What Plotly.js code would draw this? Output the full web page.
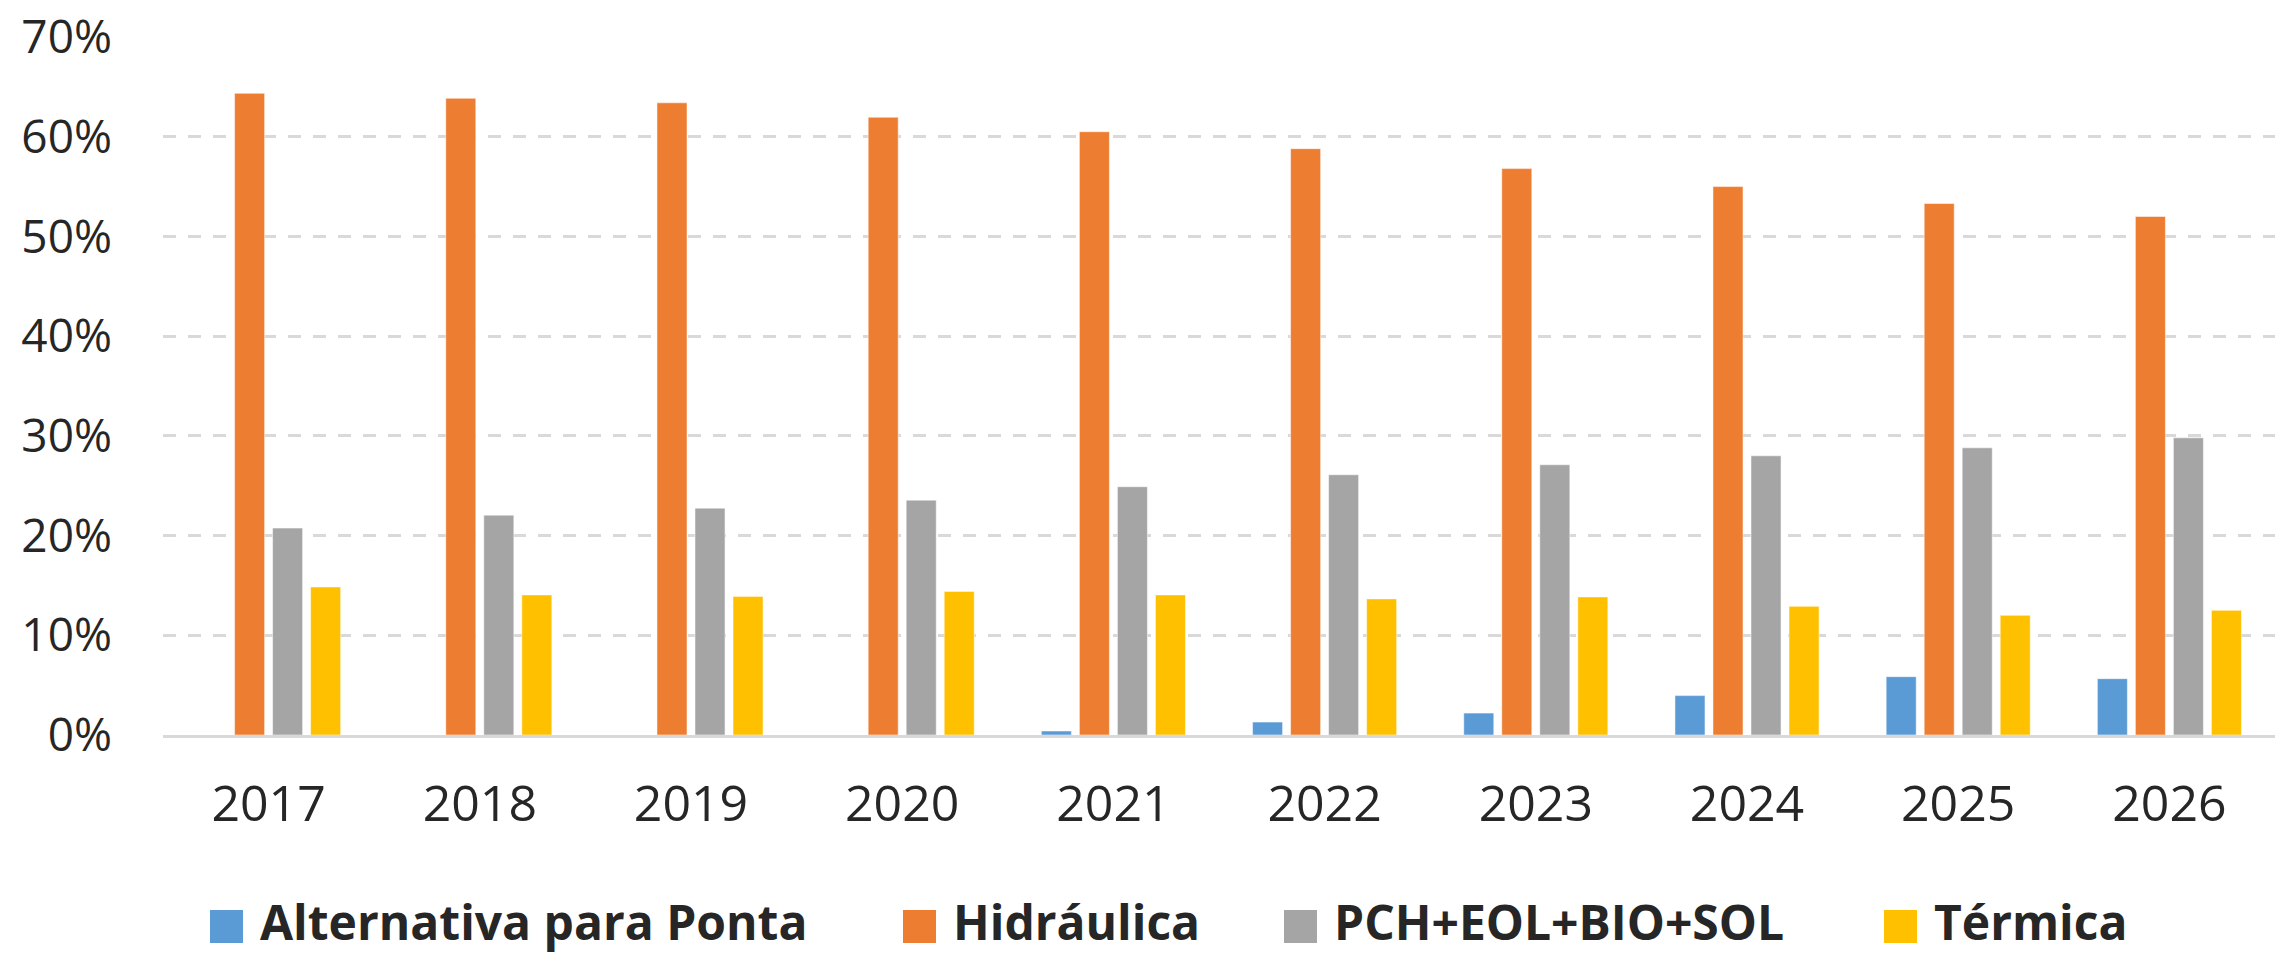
<!DOCTYPE html>
<html>
<head>
<meta charset="utf-8">
<script src="https://cdn.plot.ly/plotly-3.0.1.min.js"></script>
<style>
  html, body { margin: 0; padding: 0; background: #ffffff; }
  #chart { width: 2285px; height: 954px; }
</style>
</head>
<body>
<div id="chart"></div>
<script>
// ---- data (values in %) ----
var years = ['2017', '2018', '2019', '2020', '2021', '2022', '2023', '2024', '2025', '2026'];
var seriesNames = ['Alternativa para Ponta', 'Hidráulica', 'PCH+EOL+BIO+SOL', 'Térmica'];
var alternativaPonta = [0, 0, 0, 0, 0.4, 1.3, 2.2, 3.95, 5.85, 5.65];
var hidraulica = [64.35, 63.85, 63.4, 61.95, 60.5, 58.8, 56.8, 55.0, 53.3, 52.0];
var pchEolBioSol = [20.75, 22.05, 22.75, 23.55, 24.9, 26.1, 27.1, 28.0, 28.8, 29.8];
var termica = [14.85, 14.05, 13.9, 14.4, 14.05, 13.65, 13.85, 12.9, 12.0, 12.5];
var yTickVals = [0, 10, 20, 30, 40, 50, 60, 70];
var yTickText = ['0%', '10%', '20%', '30%', '40%', '50%', '60%', '70%'];

// ---- styles ----
var colors = ['#5B9BD5', '#ED7D31', '#A5A5A5', '#FFC000'];
var textColor = '#262626';
var seriesValues = [alternativaPonta, hidraulica, pchEolBioSol, termica];

var traces = seriesValues.map(function (vals, i) {
  return {
    type: 'bar',
    name: seriesNames[i],
    x: years,
    y: vals,
    marker: { color: colors[i], line: { color: 'rgba(255,255,255,0.5)', width: 1 } },
    showlegend: false,
    hoverinfo: 'x+y+name'
  };
});

// custom legend (large square swatches like the original)
var W = 2285, H = 954;
var mL = 163, mR = 10, mT = 37, mB = 219;
var plotW = W - mL - mR, plotH = H - mT - mB;
function px2paperX(px) { return (px - mL) / plotW; }
function px2paperY(py) { return (H - mB - py) / plotH; }

var legendSwatchLeft = [210, 903, 1284, 1884];
var swatch = 33, swatchTop = 910, textGap = 15, legendTextY = 921;

var shapes = [], annotations = [];
seriesNames.forEach(function (name, i) {
  var x0 = legendSwatchLeft[i];
  shapes.push({
    type: 'rect', xref: 'paper', yref: 'paper',
    x0: px2paperX(x0), x1: px2paperX(x0 + swatch),
    y0: px2paperY(swatchTop + swatch), y1: px2paperY(swatchTop),
    fillcolor: colors[i], line: { width: 0 }
  });
  annotations.push({
    xref: 'paper', yref: 'paper',
    x: px2paperX(x0 + swatch + textGap), y: px2paperY(legendTextY),
    xanchor: 'left', yanchor: 'middle',
    text: '<b>' + name + '</b>', showarrow: false,
    font: { family: 'Open Sans, Noto Sans, sans-serif', size: 48, color: textColor }
  });
});

var layout = {
  width: W, height: H,
  margin: { l: mL, r: mR, t: mT, b: mB, pad: 0 },
  paper_bgcolor: '#ffffff',
  plot_bgcolor: '#ffffff',
  barmode: 'group',
  bargap: 0.28,
  bargroupgap: 0.21,
  showlegend: false,
  font: { family: 'Open Sans, Noto Sans, sans-serif', color: textColor },
  xaxis: {
    type: 'category',
    showgrid: false,
    showline: true, linecolor: '#D9D9D9', linewidth: 3,
    ticks: '', zeroline: false,
    tickfont: { size: 50, color: textColor },
    ticklabelstandoff: 23
  },
  yaxis: {
    range: [0, 70],
    tickmode: 'array',
    tickvals: yTickVals,
    ticktext: yTickText,
    showgrid: true, gridcolor: '#D9D9D9', gridwidth: 3, griddash: '13px,12px',
    zeroline: false, showline: false, ticks: '',
    tickfont: { size: 46, color: textColor },
    ticklabelstandoff: 50
  },
  shapes: shapes,
  annotations: annotations
};

Plotly.newPlot('chart', traces, layout, { displayModeBar: false, staticPlot: true });
</script>
</body>
</html>
